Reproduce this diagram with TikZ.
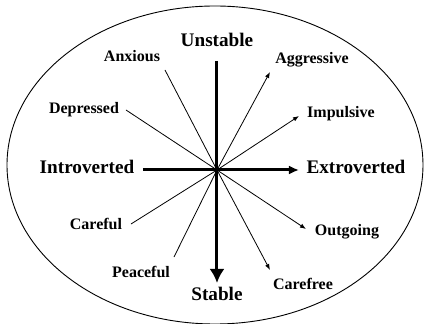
\documentclass[tikz,border=0pt]{standalone}
\usepackage{fontspec}
\setmainfont{Liberation Serif}
\usetikzlibrary{arrows.meta}

\begin{document}
\begin{tikzpicture}[
        x=1pt, y=1pt,
        pole/.style={
            font=\bfseries\fontsize{19.2}{22}\selectfont,
            inner sep=0pt, text height=0.66em, text depth=0pt
        },
        trait/.style={
            font=\bfseries\fontsize{16}{19}\selectfont,
            inner sep=0pt, text height=0.66em, text depth=0pt
        },
        spoke/.style={line width=0.8pt},
        pointer/.style={spoke, -{Latex[length=6pt,width=4.5pt]}}
    ]
        \useasboundingbox (-217,-154) rectangle (207,170);

        \draw[line width=0.9pt] (-2,5) ellipse [x radius=208, y radius=159];

        \coordinate (centro) at (0,0);

        % polos de los ejes
        \node[pole] (unstable) at (0,127) {Unstable};
        \node[pole] (stable) at (0,-127) {Stable};
        \node[pole] (introverted) at (-130,0) {Introverted};
        \node[pole] (extroverted) at (139,0) {Extroverted};

        % rasgos
        \node[trait] (anxious) at (-85,112) {Anxious};
        \node[trait] (aggressive) at (95,110) {Aggressive};
        \node[trait] (depressed) at (-133,60) {Depressed};
        \node[trait] (impulsive) at (124,56) {Impulsive};
        \node[trait] (careful) at (-121,-56) {Careful};
        \node[trait] (outgoing) at (130,-62) {Outgoing};
        \node[trait] (peaceful) at (-76,-104) {Peaceful};
        \node[trait] (carefree) at (86,-116) {Carefree};

        % extremos de las lineas
        \coordinate (ejeN) at (0,109);
        \coordinate (ejeS) at (0,-113);
        \coordinate (ejeO) at (-74,0);
        \coordinate (ejeE) at (82,0);
        \coordinate (pAnxious) at (-52,100);
        \coordinate (pAggressive) at (53,98);
        \coordinate (pDepressed) at (-91,60);
        \coordinate (pImpulsive) at (82,54);
        \coordinate (pCareful) at (-86,-54);
        \coordinate (pOutgoing) at (89,-59);
        \coordinate (pPeaceful) at (-43,-87);
        \coordinate (pCarefree) at (53,-100);

        \draw[spoke] (pAnxious) -- (centro);
        \draw[spoke] (pDepressed) -- (centro);
        \draw[spoke] (pCareful) -- (centro);
        \draw[spoke] (pPeaceful) -- (centro);
        \draw[pointer] (centro) -- (pAggressive);
        \draw[pointer] (centro) -- (pImpulsive);
        \draw[pointer] (centro) -- (pOutgoing);
        \draw[pointer] (centro) -- (pCarefree);

        \draw[line width=3pt, -{Latex[length=14pt,width=15pt]}] (ejeN) -- (ejeS);
        \draw[line width=3pt, -{Latex[length=10pt,width=9pt]}] (ejeO) -- (ejeE);
    \end{tikzpicture}
\end{document}
